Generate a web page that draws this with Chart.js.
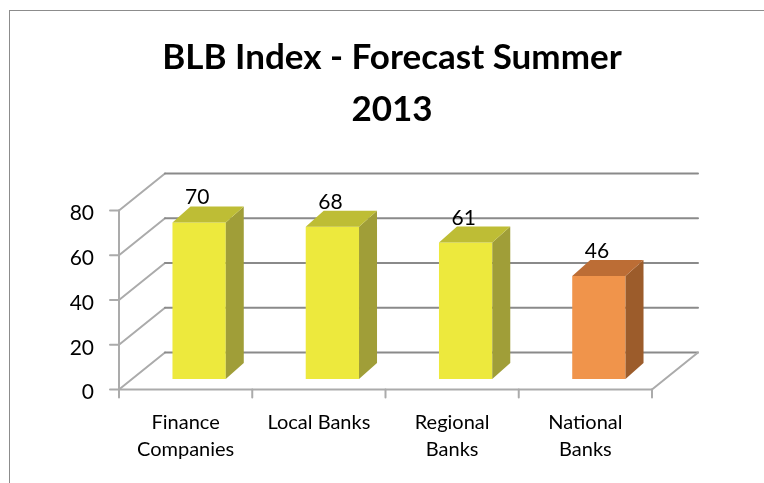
<!DOCTYPE html>
<html>
<head>
<meta charset="utf-8">
<script src="https://cdn.jsdelivr.net/npm/chart.js@4.4.1/dist/chart.umd.min.js"></script>
<style>
    html, body { margin: 0; padding: 0; background: #fff; overflow: hidden; }
    #wrap { position: relative; width: 764px; height: 483px; }
    #frame { position: absolute; left: 9px; top: 10px; width: 900px; height: 600px;
             border-left: 1px solid #8c8c8c; border-top: 1px solid #8c8c8c; }
    #bars { position: absolute; left: 0; top: 0; }
</style>
</head>
<body>
<div id="wrap">
    <div id="frame"></div>
    <canvas id="bars" width="764" height="483"></canvas>
</div>

<script>
// values
var categories = [['Finance', 'Companies'], 'Local Banks', ['Regional', 'Banks'], ['National', 'Banks']];
var values = [70, 68, 61, 46];
var yTicks = [0, 20, 40, 60, 80];
var titleLines = ['BLB Index - Forecast Summer', '2013'];

// styles
var frontColors = ['#ede93d', '#ede93d', '#ede93d', '#f0944b'];
var topColors = ['#bebd35', '#bebd35', '#bebd35', '#bc6d35'];
var sideColors = ['#a09e38', '#a09e38', '#a09e38', '#9c5c2b'];

var FONT = 'Lato';
var DEPTH_X = 46, DEPTH_Y = -37;   // wall depth
var BAR_DX = 13.5, BAR_DY = -10.5; // bars sit half way into the floor
var BAR_SX = 18, BAR_SY = -16;     // bar depth

function line(ctx, x1, y1, x2, y2) {
    ctx.beginPath();
    ctx.moveTo(x1, y1);
    ctx.lineTo(x2, y2);
    ctx.stroke();
}

var frame3d = {
    id: 'frame3d',
    beforeDatasetsDraw: function(chart) {
        var ctx = chart.ctx, a = chart.chartArea;
        var ys = chart.scales.y;
        var y0 = ys.getPixelForValue(0);
        ctx.save();
        ctx.lineCap = 'round';

        // side wall diagonals + back wall grid
        yTicks.forEach(function(v) {
            var py = ys.getPixelForValue(v);
            ctx.strokeStyle = '#ababab';
            ctx.lineWidth = 2;
            line(ctx, a.left, py, a.left + DEPTH_X, py + DEPTH_Y);
            ctx.strokeStyle = '#8a8a8a';
            line(ctx, a.left + DEPTH_X, py + DEPTH_Y, a.right + DEPTH_X, py + DEPTH_Y);
        });

        // floor
        ctx.strokeStyle = '#ababab';
        ctx.lineWidth = 2;
        line(ctx, a.left, y0, a.right, y0);
        line(ctx, a.right, y0, a.right + DEPTH_X, y0 + DEPTH_Y);

        // y axis with ticks
        line(ctx, a.left, a.top, a.left, y0);
        yTicks.forEach(function(v) {
            var py = ys.getPixelForValue(v);
            line(ctx, a.left - 9, py, a.left, py);
        });

        // category ticks
        var n = categories.length;
        for (var i = 0; i <= n; i++) {
            var px = a.left + i * (a.right - a.left) / n;
            line(ctx, px, y0, px, y0 + 8);
        }
        ctx.restore();

        ctx.save();
        ctx.translate(BAR_DX, BAR_DY);
    },
    afterDatasetsDraw: function(chart) {
        var ctx = chart.ctx;
        var meta = chart.getDatasetMeta(0);
        meta.data.forEach(function(bar, i) {
            var p = bar.getProps(['x', 'y', 'base', 'width'], true);
            var l = p.x - p.width / 2, r = p.x + p.width / 2;

            ctx.fillStyle = sideColors[i];
            ctx.beginPath();
            ctx.moveTo(r, p.y);
            ctx.lineTo(r + BAR_SX, p.y + BAR_SY);
            ctx.lineTo(r + BAR_SX, p.base + BAR_SY);
            ctx.lineTo(r, p.base);
            ctx.closePath();
            ctx.fill();

            ctx.fillStyle = topColors[i];
            ctx.beginPath();
            ctx.moveTo(l, p.y);
            ctx.lineTo(l + BAR_SX, p.y + BAR_SY);
            ctx.lineTo(r + BAR_SX, p.y + BAR_SY);
            ctx.lineTo(r, p.y);
            ctx.closePath();
            ctx.fill();

            ctx.fillStyle = '#000';
            ctx.font = '21px ' + FONT;
            ctx.textAlign = 'center';
            ctx.textBaseline = 'alphabetic';
            ctx.fillText(String(values[i]), p.x - 2, p.y + BAR_SY - 2);
        });
        ctx.restore();
    }
};

var ctx = document.getElementById('bars').getContext('2d');
var myBarChart = new Chart(ctx, {
    type: 'bar',
    data: {
        labels: categories,
        datasets: [{
            data: values,
            backgroundColor: frontColors,
            borderWidth: 0,
            barPercentage: 0.4,
            categoryPercentage: 1
        }]
    },
    options: {
        responsive: false,
        animation: false,
        devicePixelRatio: 1,
        layout: { padding: { left: 20, right: 0, top: 0, bottom: 0 } },
        plugins: {
            legend: { display: false },
            tooltip: { enabled: false },
            title: {
                display: true,
                text: titleLines,
                color: '#000',
                font: { family: FONT, size: 35, weight: 'bold', lineHeight: 52 / 35 },
                padding: { top: 31.5, bottom: 75 }
            }
        },
        scales: {
            x: {
                grid: { display: false, drawTicks: false },
                border: { display: false },
                ticks: {
                    color: '#000',
                    padding: 20,
                    font: { family: FONT, size: 20, lineHeight: 1.35 },
                    maxRotation: 0
                },
                afterFit: function(scale) { scale.height = 93.5; }
            },
            y: {
                min: 0,
                max: 80,
                grid: { display: false, drawTicks: false },
                border: { display: false },
                ticks: {
                    stepSize: 20,
                    color: '#000',
                    padding: 25,
                    labelOffset: 3,
                    font: { family: FONT, size: 21 }
                },
                afterFit: function(scale) { scale.width = 99; }
            },
            // empty right-hand space of the plot
            yRight: {
                position: 'right',
                grid: { display: false, drawTicks: false },
                border: { display: false },
                ticks: { display: false },
                afterFit: function(scale) { scale.width = 112; }
            }
        }
    },
    plugins: [frame3d]
});
</script>
</body>
</html>
